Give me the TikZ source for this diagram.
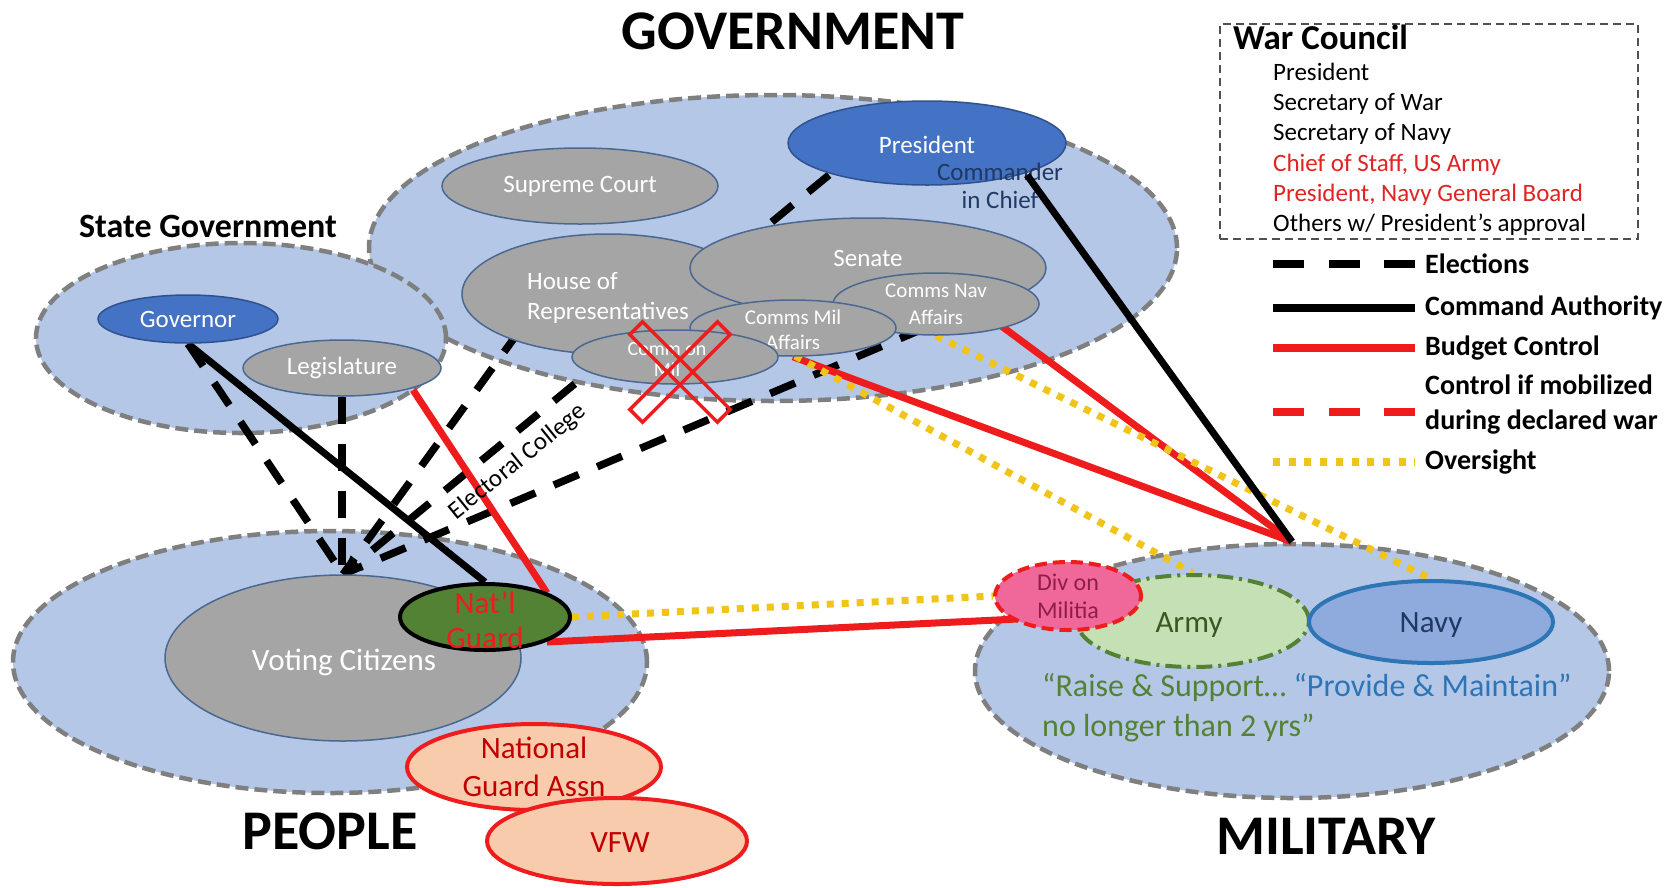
\documentclass[tikz,border=0pt]{standalone}
\usepackage{fontspec}
\setmainfont{Carlito}
\usetikzlibrary{shapes.geometric,arrows.meta,calc}
\pgfdeclarelayer{bg}
\pgfdeclarelayer{lines}
\pgfsetlayers{bg,lines,main}
\definecolor{regfill}{HTML}{B4C7E7}
\definecolor{regdraw}{HTML}{7F7F7F}
\definecolor{grayfill}{HTML}{A5A5A5}
\definecolor{graydraw}{HTML}{4A6891}
\definecolor{bluefill}{HTML}{4472C4}
\definecolor{bluedraw}{HTML}{2F528F}
\definecolor{ngfill}{HTML}{548235}
\definecolor{peach}{HTML}{F8CBAD}
\definecolor{myred}{HTML}{EE1C1C}
\definecolor{darkred}{HTML}{C00000}
\definecolor{divfill}{HTML}{F0689A}
\definecolor{divtxt}{HTML}{8E1E44}
\definecolor{armyfill}{HTML}{C5E0B4}
\definecolor{armydraw}{HTML}{548235}
\definecolor{armytxt}{HTML}{385723}
\definecolor{navyfill}{HTML}{8FAADC}
\definecolor{navydraw}{HTML}{2E75B6}
\definecolor{txtgreen}{HTML}{548235}
\definecolor{txtblue}{HTML}{2E75B6}
\definecolor{txtnavy}{HTML}{1F3864}
\definecolor{gold}{HTML}{F0C419}
\definecolor{wcred}{HTML}{E02424}
\definecolor{wcdraw}{HTML}{505050}
\begin{document}
\begin{tikzpicture}[x=1pt,y=-1pt,
  region/.style={ellipse, draw=regdraw, fill=regfill, line width=4.5pt, dash pattern=on 13pt off 6pt, inner sep=0pt},
  grayell/.style={ellipse, draw=graydraw, fill=grayfill, line width=1.5pt, inner sep=0pt},
  blueell/.style={ellipse, draw=bluedraw, fill=bluefill, line width=1.5pt, inner sep=0pt},
  wlbl/.style={text=white, align=center, inner sep=0pt, font=\fontsize{25}{30}\selectfont},
  bigtitle/.style={font=\bfseries\fontsize{56}{60}\selectfont, inner sep=0pt},
  elec/.style={line width=7.5pt, dash pattern=on 27pt off 20pt},
  legelec/.style={line width=7.5pt, dash pattern=on 31pt off 24.5pt},
  cmd/.style={line width=7pt},
  budget/.style={line width=7pt, draw=myred},
  mobil/.style={line width=7.5pt, draw=myred, dash pattern=on 31pt off 24.5pt},
  overs/.style={line width=7pt, draw=gold, dash pattern=on 7pt off 8pt},
  legovers/.style={line width=7.5pt, draw=gold, dash pattern=on 7pt off 8.7pt},
  legtxt/.style={anchor=west, inner sep=0pt, font=\bfseries\fontsize{28}{35}\selectfont, align=left},
  wctxt/.style={anchor=base west, inner sep=0pt, font=\fontsize{25}{30}\selectfont},
  xbar/.style={rectangle, draw=myred, line width=3.5pt, minimum width=124pt, minimum height=18pt, inner sep=0pt},
  colored/.style={ellipse, line width=4pt, inner sep=0pt},
  plbl/.style={align=center, inner sep=0pt, font=\fontsize{31}{38}\selectfont},
]
\useasboundingbox (0,0) rectangle (1680,887);

% ---------- region ellipses ----------
\begin{pgfonlayer}{bg}
\fill[white] (0,0) rectangle (1680,887);
\node[region, minimum width=808pt, minimum height=306pt] (govreg) at (773,248) {};
\node[region, minimum width=410pt, minimum height=190pt] (statereg) at (241,338) {};
\node[region, minimum width=634pt, minimum height=262pt] (peoplereg) at (330,662) {};
\node[region, minimum width=634pt, minimum height=254pt] (milreg) at (1292,671) {};
\end{pgfonlayer}

% ---------- region titles ----------
\node[bigtitle] (govlbl) at (793,31) {GOVERNMENT};
\node[font=\bfseries\fontsize{34}{40}\selectfont, inner sep=0pt] (statelbl) at (208,226) {State Government};
\node[bigtitle] (peoplelbl) at (330,831) {PEOPLE};
\node[bigtitle] (millbl) at (1326,836) {MILITARY};

% ---------- government ----------
\node[grayell, minimum width=276pt, minimum height=76pt] (sc) at (580,186) {};
\node[wlbl] (sct) at (sc.center) {Supreme Court};
\node[grayell, minimum width=292pt, minimum height=120pt] (house) at (608,294) {};
\node[wlbl, align=left] (houset) at (608,298) {House of\\Representatives};
\node[grayell, minimum width=356pt, minimum height=100pt] (sen) at (868,268) {};
\node[wlbl] (sent) at ($(sen.center)+(0,-10)$) {Senate};
\node[grayell, minimum width=206pt, minimum height=62pt] (cnav) at (936,304) {};
\node[wlbl, font=\fontsize{21}{27}\selectfont] (cnavt) at (cnav.center) {Comms Nav\\Affairs};
\node[grayell, minimum width=206pt, minimum height=56pt] (cmil) at (793,328) {};
\node[wlbl, font=\fontsize{21}{25}\selectfont] (cmilt) at ($(cmil.center)+(0,2)$) {Comms Mil\\Affairs};
\node[grayell, minimum width=206pt, minimum height=54pt] (comm) at (675,357) {};
\node[wlbl, font=\fontsize{20}{21}\selectfont] (commt) at ($(comm.center)+(-8,3)$) {Comm on\\Mil};
\node[xbar, rotate=45] (xa) at (680,372) {};
\node[xbar, rotate=-45] (xb) at (680,372) {};
\node[blueell, minimum width=278pt, minimum height=84pt] (pres) at (927,143) {};
\node[wlbl] (prest) at ($(pres.center)+(0,2)$) {President};
\node[text=txtnavy, align=center, inner sep=0pt, font=\fontsize{25}{28}\selectfont] (cic) at (1000,186) {Commander\\in Chief};
\draw[cmd] ($(pres.center)+(100,32)$) -- (milreg.north);

% ---------- state ----------
\node[blueell, minimum width=180pt, minimum height=48pt] (gov) at (188,319) {};
\node[wlbl] (govt) at (gov.center) {Governor};
\node[grayell, minimum width=198pt, minimum height=56pt] (leg) at (342,368) {};
\node[wlbl] (legt) at (leg.center) {Legislature};

% ---------- people ----------
\node[grayell, minimum width=356pt, minimum height=166pt] (vc) at (343,658) {};
\node[wlbl, font=\fontsize{31}{36}\selectfont] (vct) at ($(vc.center)+(1,4)$) {Voting Citizens};
\node[colored, draw=black, fill=ngfill, minimum width=170pt, minimum height=66pt] (ng) at (485,617) {};
\node[plbl, text=myred, font=\fontsize{31}{35}\selectfont] (ngt) at ($(ng.center)+(0,3)$) {Nat’l\\Guard};
\node[colored, draw=myred, fill=peach, minimum width=254pt, minimum height=86pt] (nga) at (534,767) {};
\node[plbl, text=darkred] (ngat) at (nga.center) {National\\Guard Assn};
\node[colored, draw=myred, fill=peach, minimum width=260pt, minimum height=86pt] (vfw) at (617,841) {};
\node[plbl, text=darkred] (vfwt) at ($(vfw.center)+(3,2)$) {VFW};

% ---------- military ----------
\node[colored, draw=armydraw, fill=armyfill, dash pattern=on 16pt off 6pt on 3pt off 6pt, minimum width=232pt, minimum height=92pt] (army) at (1193,621) {};
\node[plbl, text=armytxt] (armyt) at ($(army.center)+(-4,4)$) {Army};
\node[colored, draw=myred, fill=divfill, dash pattern=on 12pt off 6pt, minimum width=146pt, minimum height=68pt] (div) at (1068,596) {};
\node[plbl, text=divtxt, font=\fontsize{24}{28}\selectfont] (divt) at (div.center) {Div on\\Militia};
\node[colored, draw=navydraw, fill=navyfill, minimum width=244pt, minimum height=82pt] (navy) at (1431,622) {};
\node[plbl, text=txtnavy] (navyt) at ($(navy.center)+(0,3)$) {Navy};
\node[anchor=west, inner sep=0pt, font=\fontsize{32}{40}\selectfont, align=left] (quote) at (1042,708)
  {\textcolor{txtgreen}{“Raise \& Support… }\textcolor{txtblue}{“Provide \& Maintain”}\\\textcolor{txtgreen}{no longer than 2 yrs”}};

% ---------- electoral college label ----------
\node[rotate=39, font=\fontsize{25}{30}\selectfont, inner sep=0pt] (ec) at (518,462) {Electoral College};

% ---------- connectors ----------
\begin{pgfonlayer}{lines}
\draw[elec] (gov.south) -- (vc.north);
\draw[elec] (leg.south) -- (leg.south |- vc.north);
\draw[elec] ($(house.center)+(-88,36)$) -- (vc.north);
\draw[elec] ($(cnav.center)+(-11,24)$) -- (vc.north);
\draw[elec, -{Triangle[length=18pt,width=18pt]}] ($(pres.center)+(-98,32)$) -- (vc.north);
\draw[cmd] (gov.south) -- (ng.north);
\draw[budget] ($(leg.center)+(71,22)$) -- ($(ng.center)+(62,-24)$);
\draw[budget] (cmil.south) -- (milreg.north);
\draw[budget] ($(cnav.center)+(64,21)$) -- (milreg.north);
\draw[budget] ($(ng.center)+(62,25)$) -- ($(div.center)+(-51,23)$);
\draw[overs] (ng.east) -- (div.west);
\draw[overs] ($(cmil.center)+(2,28)$) -- (army.north);
\draw[overs] (cnav.south) -- (navy.north);
\end{pgfonlayer}

% ---------- war council ----------
\node[draw=wcdraw, line width=2pt, dash pattern=on 8pt off 5pt, anchor=north west, minimum width=418pt, minimum height=215pt, inner sep=0pt] (wcbox) at (1219,23) {};
\node[anchor=base west, inner sep=0pt, font=\bfseries\fontsize{35}{40}\selectfont] (wctitle) at (1233,49) {War Council};
\node[wctxt] (wc1) at (1273,80) {President};
\node[wctxt] (wc2) at (1273,110) {Secretary of War};
\node[wctxt] (wc3) at (1273,140) {Secretary of Navy};
\node[wctxt, text=wcred] (wc4) at (1273,171) {Chief of Staff, US Army};
\node[wctxt, text=wcred] (wc5) at (1273,201) {President, Navy General Board};
\node[wctxt] (wc6) at (1273,231) {Others w/ President’s approval};

% ---------- legend ----------
\coordinate (l1a) at (1273,264); \coordinate (l1b) at (1415,264);
\coordinate (l2a) at (1273,308); \coordinate (l2b) at (1415,308);
\coordinate (l3a) at (1273,348); \coordinate (l3b) at (1415,348);
\coordinate (l4a) at (1273,412); \coordinate (l4b) at (1415,412);
\coordinate (l5a) at (1273,462); \coordinate (l5b) at (1415,462);
\draw[legelec] (l1a) -- (l1b);
\draw[cmd, line width=7.5pt] (l2a) -- (l2b);
\draw[budget, line width=7.5pt] (l3a) -- (l3b);
\draw[mobil] (l4a) -- (l4b);
\draw[legovers] (l5a) -- (l5b);
\node[legtxt] (lt1) at (1425,264) {Elections};
\node[legtxt] (lt2) at (1425,308) {Command Authority};
\node[legtxt] (lt3) at (1425,348) {Budget Control};
\node[legtxt] (lt4) at (1425,405) {Control if mobilized\\during declared war};
\node[legtxt] (lt5) at (1425,462) {Oversight};
\end{tikzpicture}
\end{document}
